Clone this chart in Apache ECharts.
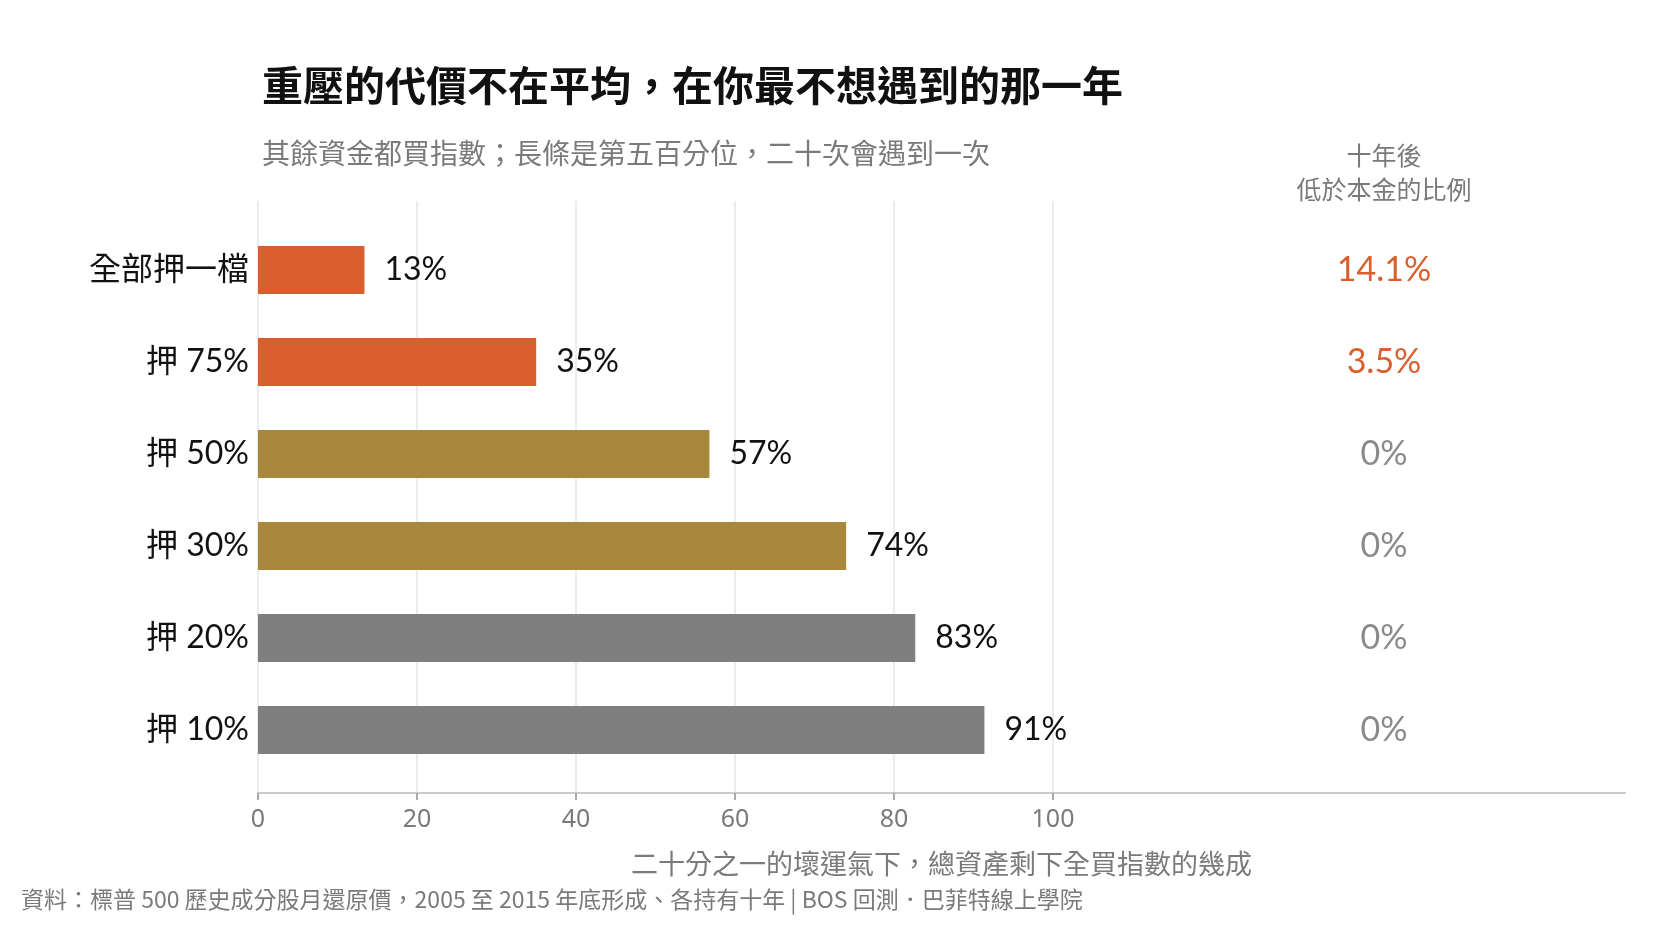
<!DOCTYPE html>
<html>
<head>
<meta charset="utf-8">
<script src="https://cdn.jsdelivr.net/npm/echarts@6/dist/echarts.min.js"></script>
<style>
html,body{margin:0;padding:0;background:#fff;}
#chart{width:1666px;height:935px;}
</style>
</head>
<body>
<div id="chart"></div>
<script>
// ---- data ----
const categories = ['全部押一檔', '押 75%', '押 50%', '押 30%', '押 20%', '押 10%'];
const remainingPct = [13.4, 35, 56.8, 74, 82.7, 91.4];
const groups = ['single', 'single', 'mid', 'mid', 'low', 'low'];
const belowPrincipalPct = [14.1, 3.5, 0, 0, 0, 0];
const xTicks = [0, 20, 40, 60, 80, 100];

const titleText = '重壓的代價不在平均，在你最不想遇到的那一年';
const subtitleText = '其餘資金都買指數；長條是第五百分位，二十次會遇到一次';
const rightHeader = '十年後\n低於本金的比例';
const xName = '二十分之一的壞運氣下，總資產剩下全買指數的幾成';
const sourceText = '資料：標普 500 歷史成分股月還原價，2005 至 2015 年底形成、各持有十年 | BOS 回測．巴菲特線上學院';

// ---- styles ----
const groupColors = { single: '#D9602E', mid: '#A8863C', low: '#7F7F7F' };
const NUM_FONT = "Lato, 'Noto Sans CJK TC', sans-serif";
const CJK_FONT = "'Noto Sans CJK TC', 'Noto Sans', sans-serif";

const chart = echarts.init(document.getElementById('chart'));

const option = {
  animation: false,
  backgroundColor: '#fff',
  grid: [
    { left: 258, right: 41, top: 224, height: 552 },
    { left: 258, width: 795, top: 201, height: 592 }
  ],
  xAxis: [
    {
      gridIndex: 0, type: 'value', min: 0, max: 172, offset: 17,
      axisLine: { show: true, lineStyle: { color: '#cacaca', width: 2 } },
      axisTick: { show: false }, axisLabel: { show: false }, splitLine: { show: false },
      name: xName, nameLocation: 'middle', nameGap: 57,
      nameTextStyle: { fontFamily: CJK_FONT, fontSize: 27, color: '#7a7a7a' }
    },
    {
      gridIndex: 1, type: 'value', min: xTicks[0], max: xTicks[xTicks.length - 1], interval: 20,
      axisLine: { show: false },
      axisTick: { show: true, length: 7, lineStyle: { color: '#aaaaaa', width: 2 } },
      axisLabel: { margin: 14, fontFamily: "'Noto Sans', sans-serif", fontSize: 25, color: '#7a7a7a' },
      splitLine: { show: true, lineStyle: { color: '#ececec', width: 2 } }
    }
  ],
  yAxis: [
    {
      gridIndex: 0, type: 'category', data: categories, inverse: true,
      axisLine: { show: false }, axisTick: { show: false },
      axisLabel: { margin: 9, fontFamily: NUM_FONT, fontSize: 32, color: '#111' }
    },
    {
      gridIndex: 0, type: 'category', inverse: true, position: 'right', offset: -241,
      data: belowPrincipalPct.map(v => v + '%'),
      axisLine: { show: false }, axisTick: { show: false },
      axisLabel: {
        margin: 0, align: 'center',
        formatter: (value, idx) => (groups[idx] === 'single' ? '{o|' : '{g|') + value + '}',
        rich: {
          o: { fontFamily: NUM_FONT, fontSize: 34, color: groupColors.single },
          g: { fontFamily: NUM_FONT, fontSize: 34, color: '#8a8a8a' }
        }
      }
    },
    { gridIndex: 1, type: 'value', show: false }
  ],
  series: [
    {
      type: 'bar', xAxisIndex: 0, yAxisIndex: 0, barWidth: 48, z: 5,
      data: remainingPct.map((v, i) => ({ value: v, itemStyle: { color: groupColors[groups[i]] } })),
      label: {
        show: true, position: 'right', distance: 20,
        formatter: p => Math.round(p.value) + '%',
        fontFamily: NUM_FONT, fontSize: 32, color: '#111'
      }
    }
  ],
  graphic: [
    { type: 'text', left: 262, top: 65,
      style: { text: titleText, fontFamily: CJK_FONT, fontSize: 41, fontWeight: 'bold', fill: '#111' } },
    { type: 'text', left: 262, top: 139,
      style: { text: subtitleText, fontFamily: CJK_FONT, fontSize: 28, fill: '#7a7a7a' } },
    { type: 'text', x: 1384, y: 138,
      style: { text: rightHeader, fontFamily: CJK_FONT, fontSize: 25, lineHeight: 34, fill: '#7a7a7a', align: 'center' } },
    { type: 'text', left: 21, top: 888,
      style: { text: sourceText, fontFamily: CJK_FONT, fontSize: 23, fill: '#7a7a7a' } }
  ]
};

chart.setOption(option);
</script>
</body>
</html>
